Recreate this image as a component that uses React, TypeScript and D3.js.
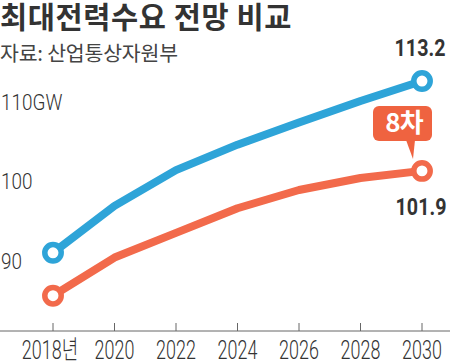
import * as d3 from 'd3'

// 최대전력수요 전망 비교 (GW)
const years = [2018, 2020, 2022, 2024, 2026, 2028, 2030]
const plan7 = [91.6, 97.5, 102.0, 105.2, 108.0, 110.7, 113.2]
const plan8 = [86.2, 91.0, 94.1, 97.2, 99.5, 101.0, 101.9]
const yTicks = [90, 100, 110]
const yTickLabels = ['90', '100', '110GW']
const xTickLabels = ['2018년', '2020', '2022', '2024', '2026', '2028', '2030']

const W = 450
const H = 363
const BLUE = '#2ea4d8'
const RED = '#f26a4b'
const TEXT = '#333'
const NUM_FONT = 'Roboto, "Liberation Sans", sans-serif'
const KR_FONT = '"Noto Sans CJK KR", "Noto Sans", sans-serif'

// condensed text: scale horizontally around the anchor point
const Cond = (props: {
  x: number; y: number; sx: number; size: number; weight?: number
  anchor?: string; fill?: string; family?: string; children: string
}) => (
  <text
    transform={`translate(${props.x},${props.y}) scale(${props.sx},1)`}
    fontSize={props.size}
    fontWeight={props.weight ?? 400}
    textAnchor={props.anchor ?? 'start'}
    fill={props.fill ?? TEXT}
    fontFamily={props.family ?? NUM_FONT}
  >
    {props.children}
  </text>
)

export default function App() {
  const x = d3.scaleLinear().domain([2018, 2030]).range([53, 422])
  const y = d3.scaleLinear().domain([90, 110]).range([265.5, 106.5])
  const axisY = 331

  const line = d3.line<number>()
    .x((_, i) => x(years[i]))
    .y(d => y(d))

  const series = [
    { values: plan7, color: BLUE },
    { values: plan8, color: RED },
  ]

  const last = years.length - 1
  const bx = x(years[last])
  const by = y(plan8[last])

  return (
    <svg width={W} height={H} style={{ position: 'absolute', left: 0, top: 0 }}>
      <rect width={W} height={H} fill="#fff" />

      {/* title */}
      <text x={0} y={28} fontSize={29.5} fontWeight={700} fill={TEXT}
        fontFamily={KR_FONT} letterSpacing={0.6}>최대전력수요 전망 비교</text>
      <text x={0} y={61} fontSize={20.5} fill="#444" fontFamily={KR_FONT}
        letterSpacing={-0.2}>자료: 산업통상자원부</text>

      {/* y labels */}
      {yTicks.map((t, i) => (
        <Cond key={t} x={1} y={y(t) + 3} sx={0.86} size={22} weight={300}>
          {yTickLabels[i]}
        </Cond>
      ))}

      {/* x axis */}
      <line x1={0} x2={W} y1={axisY} y2={axisY} stroke="#666" strokeWidth={1} />
      {years.map((yr, i) => (
        <g key={yr}>
          <line x1={x(yr)} x2={x(yr)} y1={axisY - 8} y2={axisY} stroke="#666" strokeWidth={1} />
          <Cond x={x(yr) - (i === 0 ? 3 : 0)} y={358.5} sx={0.69} size={26} weight={300}
            anchor="middle"
            family={i === 0 ? `Roboto, "Liberation Sans", ${KR_FONT}` : NUM_FONT}>
            {xTickLabels[i]}
          </Cond>
        </g>
      ))}

      {/* lines */}
      {series.map(s => (
        <path key={s.color} d={line(s.values) ?? ''} fill="none" stroke={s.color}
          strokeWidth={8} strokeLinejoin="round" strokeLinecap="round" />
      ))}
      {series.map(s => [0, last].map(i => (
        <circle key={s.color + i} cx={x(years[i])} cy={y(s.values[i])} r={8.2}
          fill="#fff" stroke={s.color} strokeWidth={5.5} />
      )))}

      {/* end values */}
      <Cond x={bx - 2} y={56} sx={0.82} size={24} weight={700} anchor="middle">
        {plan7[last].toFixed(1)}
      </Cond>
      <Cond x={bx - 1} y={by + 44} sx={0.82} size={24} weight={700} anchor="middle">
        {plan8[last].toFixed(1)}
      </Cond>

      {/* 8차 bubble */}
      <rect x={bx - 49} y={by - 65} width={59} height={35} rx={6} fill="#ef6340" />
      <path d={`M${bx - 16},${by - 31} L${bx - 7},${by - 31} L${bx - 9},${by - 12} Z`} fill="#ef6340" />
      <text x={bx - 18} y={by - 39} fontSize={26} fontWeight={700} fill="#fff"
        textAnchor="middle" fontFamily={KR_FONT} letterSpacing={-1}>8차</text>
    </svg>
  )
}
